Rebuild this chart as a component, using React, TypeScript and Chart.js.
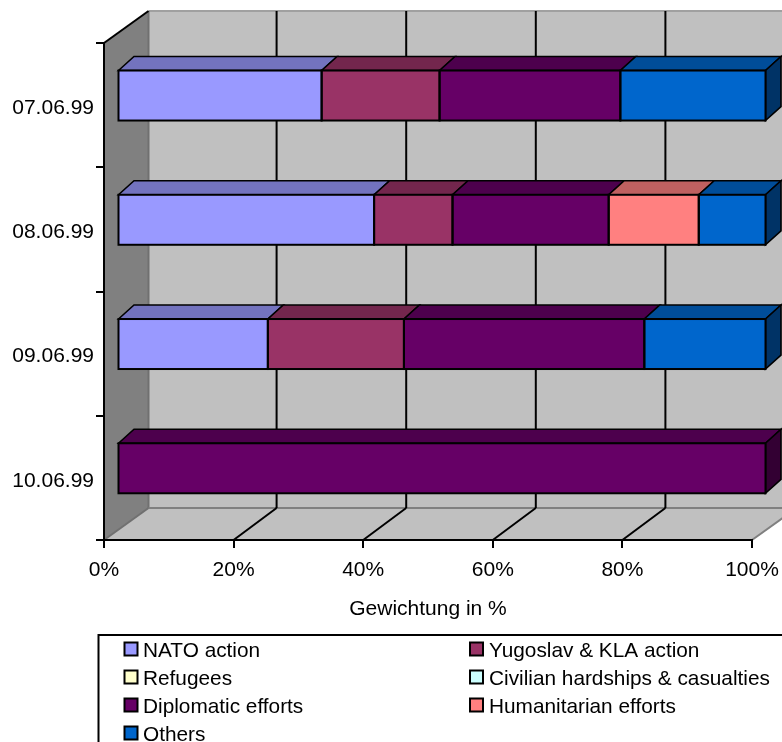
import React, { useEffect, useRef } from "react";
import { Chart, registerables } from "chart.js";

Chart.register(...registerables);

const categories = ["07.06.99", "08.06.99", "09.06.99", "10.06.99"];
const nato = [31.5, 39.6, 23.2, 0];
const yugoslav = [18.2, 12.1, 21.0, 0];
const refugees = [0, 0, 0, 0];
const civilian = [0, 0, 0, 0];
const diplomatic = [27.9, 24.1, 37.1, 100];
const humanitarian = [0, 13.9, 0, 0];
const others = [22.4, 10.3, 18.7, 0];

const seriesNames = [
  "NATO action",
  "Yugoslav & KLA action",
  "Refugees",
  "Civilian hardships & casualties",
  "Diplomatic efforts",
  "Humanitarian efforts",
  "Others",
];
const seriesValues = [nato, yugoslav, refugees, civilian, diplomatic, humanitarian, others];
const seriesColors = ["#9999FF", "#993366", "#FFFFCC", "#CCFFFF", "#660066", "#FF8080", "#0066CC"];

const FONT = '"Liberation Sans", Arial, sans-serif';
const TEXT_SIZE = 21;
const KEY_TEXT_SIZE = 20.8;

// Projection of the value axis depth on the walls and of the bars within the box.
const WALL_DX = 44.5;
const GRID_DX = 43;
const WALL_DY = -32;
const BAR_SHIFT_X = 13.5;
const BAR_SHIFT_Y = -9.6;
const BAR_DX = 15.5;
const BAR_DY = -14;

function shade(hex: string, f: number) {
  const n = parseInt(hex.slice(1), 16);
  const r = Math.round(((n >> 16) & 255) * f);
  const g = Math.round(((n >> 8) & 255) * f);
  const b = Math.round((n & 255) * f);
  return `rgb(${r},${g},${b})`;
}

function poly(ctx: CanvasRenderingContext2D, pts: number[][], fill: string | null, stroke: string | null, lw = 2) {
  ctx.beginPath();
  pts.forEach((p, i) => (i ? ctx.lineTo(p[0], p[1]) : ctx.moveTo(p[0], p[1])));
  ctx.closePath();
  if (fill) {
    ctx.fillStyle = fill;
    ctx.fill();
  }
  if (stroke) {
    ctx.strokeStyle = stroke;
    ctx.lineWidth = lw;
    ctx.lineJoin = "miter";
    ctx.stroke();
  }
}

function segment(ctx: CanvasRenderingContext2D, x0: number, y0: number, x1: number, y1: number, color: string, lw: number) {
  ctx.beginPath();
  ctx.moveTo(x0, y0);
  ctx.lineTo(x1, y1);
  ctx.strokeStyle = color;
  ctx.lineWidth = lw;
  ctx.stroke();
}

// Walls, floor and gridlines of the 3D box, placed from the axis scales.
const boxPlugin = {
  id: "box3d",
  beforeDraw(chart: any) {
    const { ctx, chartArea: a, scales } = chart;
    const x = scales.x;
    const dx = WALL_DX;
    const dy = WALL_DY;
    const right = x.getPixelForValue(100);
    ctx.save();
    poly(ctx, [[a.left + dx, a.top + dy], [right + dx, a.top + dy], [right + dx, a.bottom + dy], [a.left + dx, a.bottom + dy]], "#C0C0C0", null);
    poly(ctx, [[a.left, a.top], [a.left + dx, a.top + dy], [a.left + dx, a.bottom + dy], [a.left, a.bottom]], "#808080", null);
    poly(ctx, [[a.left, a.bottom], [a.left + dx, a.bottom + dy], [right + dx, a.bottom + dy], [right, a.bottom]], "#C0C0C0", null);

    segment(ctx, a.left + dx, a.top + dy, right + dx, a.top + dy, "#A0A0A0", 2);
    segment(ctx, a.left + dx, a.top + dy, a.left + dx, a.bottom + dy, "#707070", 2);
    segment(ctx, a.left + dx, a.bottom + dy, right + dx, a.bottom + dy, "#808080", 2);
    segment(ctx, right, a.bottom, right + dx, a.bottom + dy, "#808080", 2);
    segment(ctx, a.left, a.bottom, a.left + dx, a.bottom + dy, "#707070", 2);
    segment(ctx, a.left, a.top, a.left + dx, a.top + dy, "#000000", 2);

    x.ticks.forEach((t: any) => {
      const px = x.getPixelForValue(t.value);
      if (t.value > 0) segment(ctx, px + GRID_DX, a.top + dy, px + GRID_DX, a.bottom + dy, "#000000", 2);
      if (t.value > 0 && t.value < 100) segment(ctx, px, a.bottom, px + GRID_DX, a.bottom + dy, "#000000", 2);
    });
    ctx.restore();
  },
  // Bars sit inside the box, so their layer is shifted; top and side faces go underneath.
  beforeDatasetsDraw(chart: any) {
    const { ctx } = chart;
    ctx.save();
    ctx.translate(BAR_SHIFT_X, BAR_SHIFT_Y);
    categories.forEach((_, row) => {
      let last: any = null;
      chart.data.datasets.forEach((ds: any, di: number) => {
        const el = chart.getDatasetMeta(di).data[row];
        if (!ds.data[row]) return;
        last = { el, color: ds.backgroundColor };
        const top = el.y - el.height / 2;
        poly(ctx, [[el.base, top], [el.base + BAR_DX, top + BAR_DY], [el.x + BAR_DX, top + BAR_DY], [el.x, top]], shade(ds.backgroundColor, 0.75), "#000000", 1.6);
      });
      if (last) {
        const el = last.el;
        const top = el.y - el.height / 2;
        const bottom = el.y + el.height / 2;
        poly(ctx, [[el.x, top], [el.x + BAR_DX, top + BAR_DY], [el.x + BAR_DX, bottom + BAR_DY], [el.x, bottom]], shade(last.color, 0.5), "#000000", 1.6);
      }
    });
  },
  afterDatasetsDraw(chart: any) {
    const { ctx } = chart;
    ctx.strokeStyle = "#000000";
    ctx.lineWidth = 2;
    chart.data.datasets.forEach((ds: any, di: number) => {
      chart.getDatasetMeta(di).data.forEach((el: any, row: number) => {
        if (!ds.data[row]) return;
        ctx.strokeRect(el.base, el.y - el.height / 2, el.x - el.base, el.height);
      });
    });
    ctx.restore();
  },
  // Boxed two-column key, running off the right and bottom edges of the canvas.
  afterDraw(chart: any) {
    const { ctx, data } = chart;
    ctx.save();
    ctx.strokeStyle = "#000000";
    ctx.lineWidth = 2;
    ctx.strokeRect(98.5, 635, 800, 200);
    ctx.font = `${KEY_TEXT_SIZE}px ${FONT}`;
    ctx.textBaseline = "middle";
    ctx.textAlign = "left";
    data.datasets.forEach((ds: any, i: number) => {
      const col = i % 2;
      const row = Math.floor(i / 2);
      const mx = col ? 470 : 124.5;
      const cy = 648.5 + row * 28;
      ctx.fillStyle = ds.backgroundColor;
      ctx.fillRect(mx, cy - 6, 13, 13);
      ctx.lineWidth = 2;
      ctx.strokeRect(mx, cy - 6, 13, 13);
      ctx.fillStyle = "#000000";
      ctx.fillText(ds.label, col ? 489 : 143, cy + 3);
    });
    ctx.restore();
  },
};

export default function App() {
  const ref = useRef<HTMLCanvasElement>(null);
  useEffect(() => {
    const chart = new Chart(ref.current as HTMLCanvasElement, {
      type: "bar",
      plugins: [boxPlugin],
      data: {
        labels: categories,
        datasets: seriesNames.map((label, i) => ({
          label,
          data: seriesValues[i],
          backgroundColor: seriesColors[i],
          borderWidth: 0,
          barPercentage: 0.4024,
          categoryPercentage: 1,
          clip: false,
        })),
      },
      options: {
        indexAxis: "y",
        responsive: false,
        animation: false,
        layout: { autoPadding: false, padding: { top: 43, right: 30, left: 0, bottom: 0 } },
        plugins: { legend: { display: false }, tooltip: { enabled: false } },
        scales: {
          x: {
            stacked: true,
            min: 0,
            max: 100,
            afterFit(scale: any) {
              scale.height = 202;
              scale.paddingLeft = 0;
              scale.paddingRight = 0;
            },
            grid: { drawOnChartArea: false, drawTicks: true, tickLength: 8, color: "#000000", lineWidth: 2 },
            border: { color: "#000000", width: 2 },
            ticks: {
              stepSize: 20,
              color: "#000000",
              padding: 10,
              maxRotation: 0,
              font: { family: FONT, size: TEXT_SIZE },
              callback: (v: any) => `${v}%`,
            },
            title: {
              display: true,
              text: "Gewichtung in %",
              color: "#000000",
              font: { family: FONT, size: TEXT_SIZE },
              padding: { top: 0, bottom: 120 },
            },
          },
          y: {
            stacked: true,
            afterFit(scale: any) {
              scale.width = 104;
            },
            grid: { drawOnChartArea: false, drawTicks: true, tickLength: 8, color: "#000000", lineWidth: 2, offset: true },
            border: { color: "#000000", width: 2 },
            ticks: {
              color: "#000000",
              padding: 2,
              labelOffset: 3,
              font: { family: FONT, size: TEXT_SIZE },
            },
          },
        },
      },
    } as any);
    return () => chart.destroy();
  }, []);
  return (
    <canvas
      ref={ref}
      width={782}
      height={742}
      style={{ position: "absolute", left: 0, top: 0, width: 782, height: 742, display: "block" }}
    />
  );
}
